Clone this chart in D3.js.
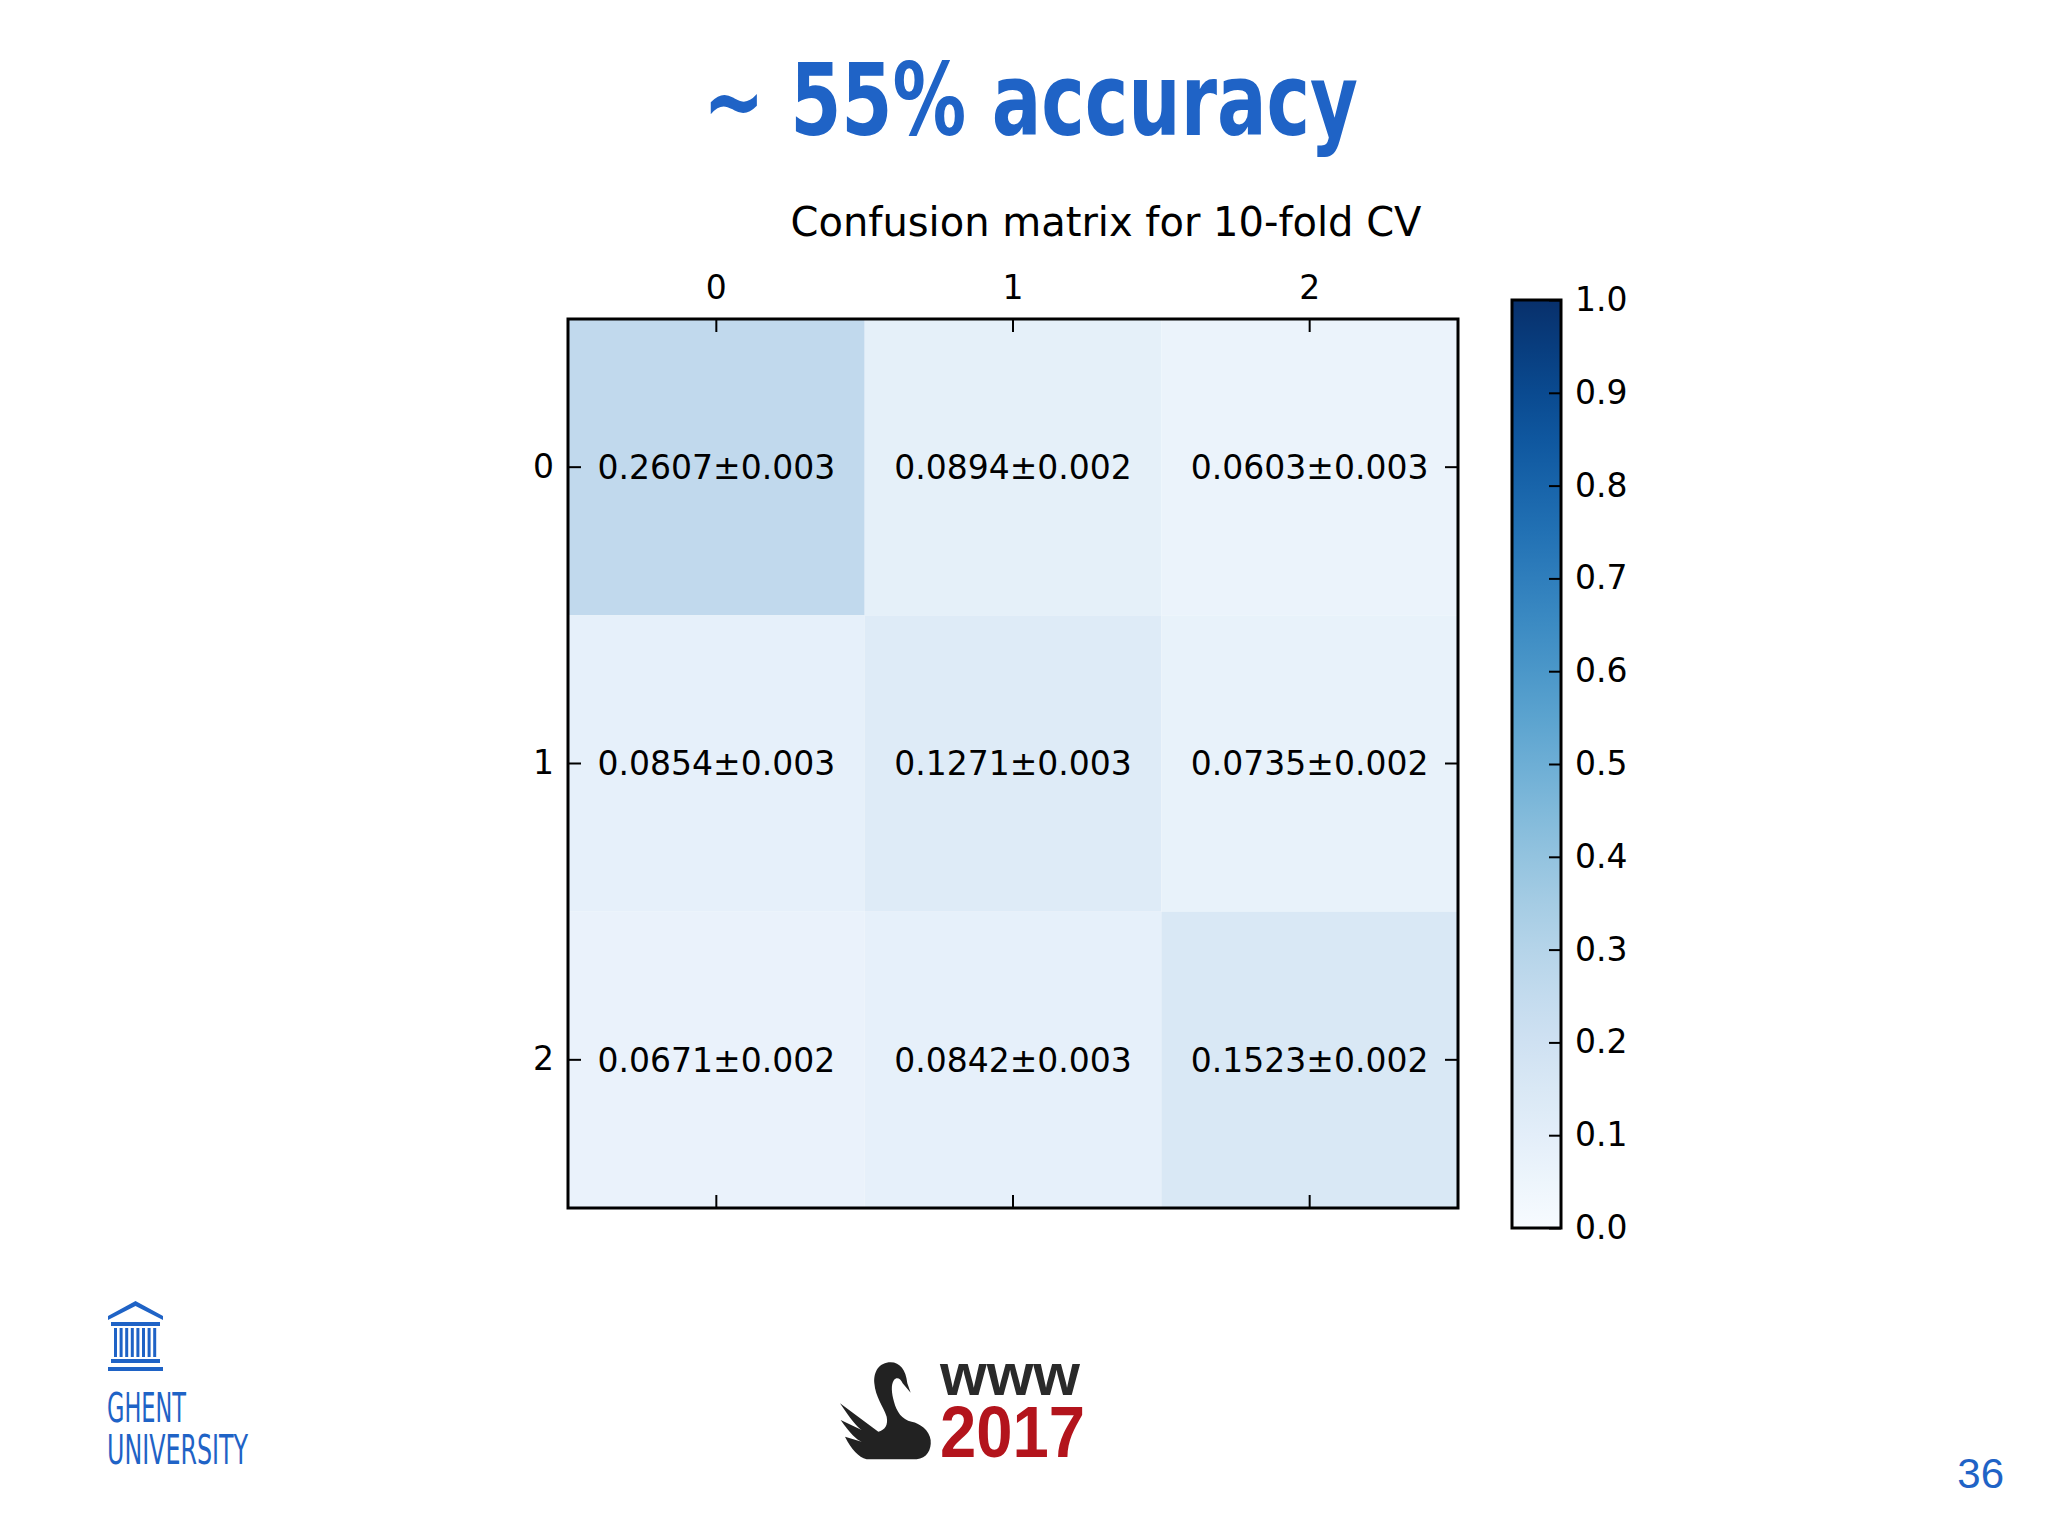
<!DOCTYPE html>
<html>
<head>
<meta charset="utf-8">
<script src="https://cdn.jsdelivr.net/npm/d3@7"></script>
<style>
  body { margin: 0; background: #ffffff; }
  svg text { font-family: "DejaVu Sans", sans-serif; }
</style>
</head>
<body>
<div id="slide"></div>
<script>
// class labels (rows = true, cols = predicted)
const classes = ["0", "1", "2"];
// mean of the normalised confusion matrix over the folds
const means = [
    [0.2607, 0.0894, 0.0603],
    [0.0854, 0.1271, 0.0735],
    [0.0671, 0.0842, 0.1523]
];
// std over the folds
const stds = [
    [0.003, 0.002, 0.003],
    [0.003, 0.003, 0.002],
    [0.002, 0.003, 0.002]
];
const colorbarTicks = [0.0, 0.1, 0.2, 0.3, 0.4, 0.5, 0.6, 0.7, 0.8, 0.9, 1.0];

const W = 2048, H = 1535;
const blue = "#1f63c6";

const svg = d3.select("#slide")
    .append("svg")
    .attr("width", W)
    .attr("height", H);

svg.append("rect").attr("width", W).attr("height", H).attr("fill", "#ffffff");

// slide heading
svg.append("text")
    .attr("x", 703)
    .attr("y", 135)
    .attr("textLength", 655)
    .attr("lengthAdjust", "spacingAndGlyphs")
    .style("font-family", "'Liberation Sans Narrow', 'DejaVu Sans Condensed', sans-serif")
    .style("font-weight", "bold")
    .style("font-size", "100px")
    .style("fill", blue)
    .text("~ 55% accuracy");

// The matrix
const plot = {left: 568, right: 1458, top: 319, bottom: 1208};

const x = d3.scaleBand().domain(classes).range([plot.left, plot.right]);
const y = d3.scaleBand().domain(classes).range([plot.top, plot.bottom]);
const color = d3.scaleSequential(d3.interpolateBlues).domain([0, 1]);

const cells = [];
means.forEach((row, i) => {
    row.forEach((v, j) => {
        cells.push({row: classes[i], col: classes[j], value: v, std: stds[i][j]});
    });
});

const g = svg.append("g");

g.selectAll("rect.cell")
    .data(cells)
    .join("rect")
    .attr("class", "cell")
    .attr("x", d => x(d.col))
    .attr("y", d => y(d.row))
    .attr("width", x.bandwidth())
    .attr("height", y.bandwidth())
    .attr("fill", d => color(d.value));

g.selectAll("text.cell-label")
    .data(cells)
    .join("text")
    .attr("class", "cell-label")
    .attr("x", d => x(d.col) + x.bandwidth() / 2)
    .attr("y", d => y(d.row) + y.bandwidth() / 2)
    .attr("dy", "0.36em")
    .attr("text-anchor", "middle")
    .style("font-size", "33px")
    .style("fill", "#000")
    .text(d => d.value.toFixed(4) + "\u00b1" + d.std.toFixed(3));

// ticks point inwards, like matplotlib's matshow
const styleAxis = sel => {
    sel.select(".domain").remove();
    sel.selectAll(".tick line").attr("stroke", "#000").attr("stroke-width", 2);
    sel.selectAll(".tick text").style("font-size", "33px").style("font-family", "DejaVu Sans").attr("fill", "#000");
};

svg.append("g")
    .attr("transform", `translate(0,${plot.top})`)
    .call(d3.axisTop(x).tickSizeInner(-13).tickSizeOuter(0).tickPadding(20))
    .call(styleAxis);

svg.append("g")
    .attr("transform", `translate(0,${plot.bottom})`)
    .call(d3.axisBottom(x).tickSizeInner(-13).tickSizeOuter(0).tickFormat(""))
    .call(styleAxis);

svg.append("g")
    .attr("transform", `translate(${plot.left},0)`)
    .call(d3.axisLeft(y).tickSizeInner(-13).tickSizeOuter(0).tickPadding(14))
    .call(styleAxis);

svg.append("g")
    .attr("transform", `translate(${plot.right},0)`)
    .call(d3.axisRight(y).tickSizeInner(-13).tickSizeOuter(0).tickFormat(""))
    .call(styleAxis);

svg.append("rect")
    .attr("x", plot.left)
    .attr("y", plot.top)
    .attr("width", plot.right - plot.left)
    .attr("height", plot.bottom - plot.top)
    .attr("fill", "none")
    .attr("stroke", "#000")
    .attr("stroke-width", 3);

svg.append("text")
    .attr("x", 1106)
    .attr("y", 236)
    .attr("text-anchor", "middle")
    .style("font-size", "40px")
    .style("fill", "#000")
    .text("Confusion matrix for 10-fold CV");

// colour bar
const cb = {left: 1512, right: 1561, top: 300, bottom: 1228};
const cbScale = d3.scaleLinear().domain([0, 1]).range([cb.bottom, cb.top]);

const grad = svg.append("defs").append("linearGradient")
    .attr("id", "blues")
    .attr("x1", "0").attr("y1", "1")
    .attr("x2", "0").attr("y2", "0");
grad.selectAll("stop")
    .data(d3.range(0, 1.0001, 0.05))
    .join("stop")
    .attr("offset", d => d)
    .attr("stop-color", d => color(d));

svg.append("rect")
    .attr("x", cb.left)
    .attr("y", cb.top)
    .attr("width", cb.right - cb.left)
    .attr("height", cb.bottom - cb.top)
    .attr("fill", "url(#blues)")
    .attr("stroke", "#000")
    .attr("stroke-width", 3);

svg.append("g")
    .attr("transform", `translate(${cb.right},0)`)
    .call(d3.axisRight(cbScale).tickValues(colorbarTicks).tickFormat(d3.format(".1f"))
        .tickSizeInner(-12).tickSizeOuter(0).tickPadding(14))
    .call(styleAxis);

// Ghent University logo
const ghent = svg.append("g").attr("fill", blue);
ghent.append("path")
    .attr("d", "M108,1316 L135.5,1301 L163,1316 L163,1320 L135.5,1306 L108,1320 Z");
ghent.append("rect").attr("x", 111).attr("y", 1322).attr("width", 49).attr("height", 4);
d3.range(8).forEach(i => {
    ghent.append("rect").attr("x", 114 + i * 5.6).attr("y", 1328).attr("width", 3).attr("height", 29);
});
ghent.append("rect").attr("x", 111).attr("y", 1359).attr("width", 49).attr("height", 4);
ghent.append("rect").attr("x", 108).attr("y", 1367).attr("width", 55).attr("height", 4);
ghent.append("text")
    .attr("x", 107).attr("y", 1422)
    .attr("textLength", 79).attr("lengthAdjust", "spacingAndGlyphs")
    .style("font-family", "'Liberation Sans Narrow', 'DejaVu Sans Condensed', sans-serif")
    .style("font-size", "40px")
    .text("GHENT");
ghent.append("text")
    .attr("x", 107).attr("y", 1464)
    .attr("textLength", 141).attr("lengthAdjust", "spacingAndGlyphs")
    .style("font-family", "'Liberation Sans Narrow', 'DejaVu Sans Condensed', sans-serif")
    .style("font-size", "40px")
    .text("UNIVERSITY");

// WWW2017 logo
svg.append("path")
    .attr("transform", "translate(820,1330) scale(0.3333)")
    .attr("fill", "#222")
    .attr("d", "M272,188 L262,160 C258,120 240,97 212,97 C178,97 160,125 163,160 C166,200 190,230 200,260 C205,285 195,300 175,305 L60,220 C90,265 110,290 125,300 L62,270 C90,310 110,330 125,335 L75,320 C95,360 115,380 140,388 L290,388 C320,385 335,360 332,330 C328,300 300,280 275,275 C245,268 230,245 222,215 C215,190 212,165 222,150 C230,140 242,145 248,160 Z");
svg.append("text")
    .attr("x", 940).attr("y", 1395)
    .attr("textLength", 140).attr("lengthAdjust", "spacingAndGlyphs")
    .style("font-family", "'Liberation Sans', sans-serif")
    .style("font-weight", "bold")
    .style("font-size", "60px")
    .style("fill", "#2a2a2a")
    .text("www");
svg.append("text")
    .attr("x", 940).attr("y", 1457)
    .attr("textLength", 145).attr("lengthAdjust", "spacingAndGlyphs")
    .style("font-family", "'Liberation Sans', sans-serif")
    .style("font-weight", "bold")
    .style("font-size", "72px")
    .style("fill", "#b3141c")
    .text("2017");

// page number
svg.append("text")
    .attr("x", 2004).attr("y", 1488)
    .attr("text-anchor", "end")
    .style("font-family", "'Liberation Sans', sans-serif")
    .style("font-size", "42px")
    .style("fill", blue)
    .text("36");
</script>
</body>
</html>
